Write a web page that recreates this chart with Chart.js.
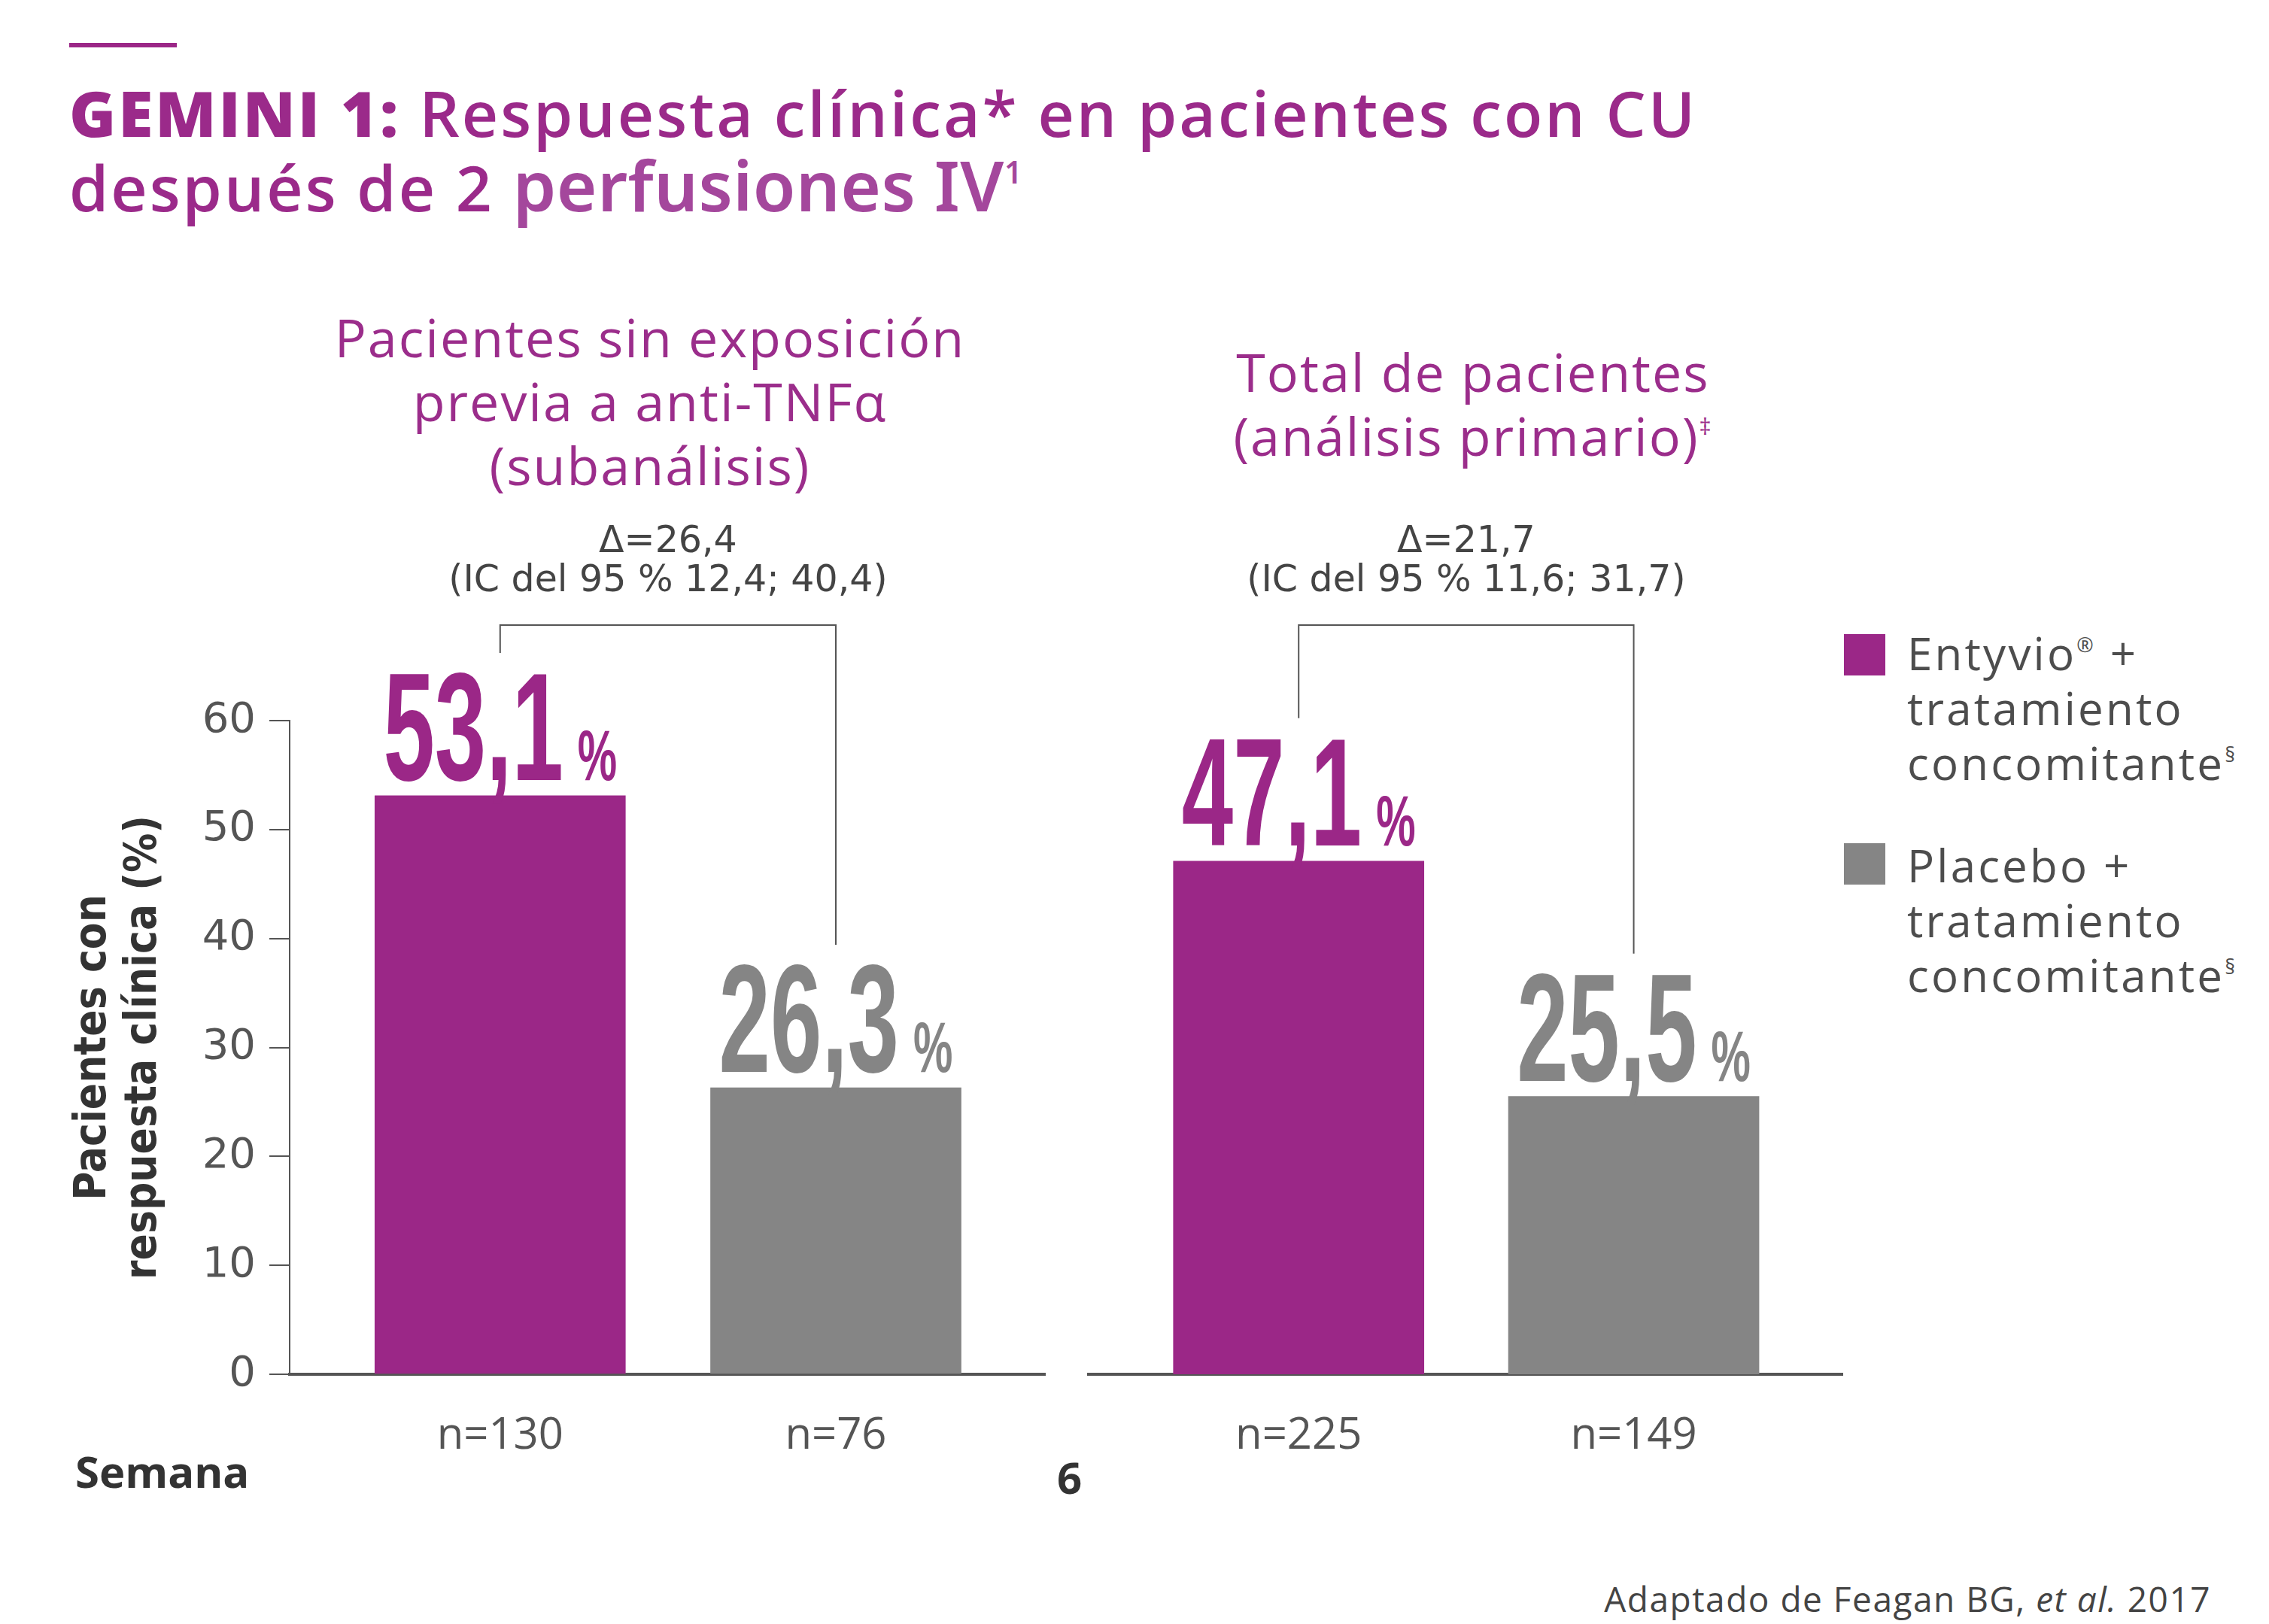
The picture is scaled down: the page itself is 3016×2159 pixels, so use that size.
<!DOCTYPE html>
<html>
<head>
<meta charset="utf-8">
<script src="https://cdn.jsdelivr.net/npm/chart.js@4.4.0/dist/chart.umd.min.js"></script>
<style>
  html, body { margin: 0; padding: 0; background: #fff; }
  body { width: 3016px; height: 2159px; position: relative; overflow: hidden; font-family: 'Open Sans', sans-serif; }
  canvas { position: absolute; left: 0; top: 0; }
  .t { position: absolute; white-space: nowrap; }
  .titulo { left: 92px; font-size: 84px; letter-spacing: 3px; line-height: 100px; color: #9b2a8a; font-weight: 600; }
  .titulo b { font-weight: 800; }
  .perf { font-family: 'Noto Sans', sans-serif; font-size: 92px; letter-spacing: 0.5px; color: #a4479c; font-weight: 600; }
  .sub { text-align: center; font-size: 70px; letter-spacing: 2px; line-height: 85px; color: #9b2d8b; }
  .ley { left: 2535px; font-size: 60px; letter-spacing: 3.2px; line-height: 73px; color: #4d4d4d; }
  .cuadro { position: absolute; left: 2451px; width: 55px; height: 55px; }
  sup { font-size: 0.45em; line-height: 0; vertical-align: 0.9em; }
</style>
</head>
<body>
<div style="position:absolute;left:92px;top:57px;width:143px;height:6px;background:#9b2787"></div>
<div class="t titulo" style="top:100px"><b>GEMINI 1:</b> Respuesta clínica* en pacientes con CU</div>
<div class="t titulo" style="top:196px">después de 2 <span class="perf">perfusiones IV<sup>1</sup></span></div>

<div class="t sub" style="left:364px;width:1000px;top:406px">Pacientes sin exposición<br>previa a anti-TNFα<br>(subanálisis)</div>
<div class="t sub" style="left:1458px;width:1000px;top:452px">Total de pacientes<br>(análisis primario)<sup>‡</sup></div>

<div class="cuadro" style="top:843px;background:#9b2787"></div>
<div class="t ley" style="top:832px">Entyvio<sup>®</sup> +<br>tratamiento<br>concomitante<sup>§</sup></div>
<div class="cuadro" style="top:1121px;background:#858585"></div>
<div class="t ley" style="top:1114px">Placebo +<br>tratamiento<br>concomitante<sup>§</sup></div>

<div class="t" style="left:100px;top:1918px;font-size:58px;font-weight:700;color:#333;line-height:76px">Semana</div>
<div class="t" style="left:1405px;top:1926px;font-size:58px;font-weight:700;color:#333;line-height:76px">6</div>
<div class="t" style="right:77px;top:2098px;font-size:46px;letter-spacing:1.5px;color:#444;line-height:54px">Adaptado de Feagan BG, <i>et al.</i> 2017</div>

<canvas id="graf1" width="3016" height="2159"></canvas>
<canvas id="graf2" width="3016" height="2159"></canvas>

<script>
// ==================== DATOS ====================
const series = ['Entyvio® + tratamiento concomitante', 'Placebo + tratamiento concomitante'];
const grupos = ['Pacientes sin exposición previa a anti-TNFα (subanálisis)', 'Total de pacientes (análisis primario)'];
const entyvio = [53.1, 47.1];
const placebo = [26.3, 25.5];
const nEntyvio = [130, 225];
const nPlacebo = [76, 149];
const deltas = ['Δ=26,4', 'Δ=21,7'];
const intervalos = ['(IC del 95 % 12,4; 40,4)', '(IC del 95 % 11,6; 31,7)'];
const ticksY = [0, 10, 20, 30, 40, 50, 60];

// ==================== ESTILOS ====================
const purpura = '#9b2787';
const gris = '#858585';
const colorEje = '#555555';

// etiqueta grande tipo "53,1 %" (fuente estrechada a mano)
function dibujarValor(ctx, x, yBase, valor, color) {
  const texto = valor.toFixed(1).replace('.', ',');
  const sxNum = 0.6, sxPct = 0.62;
  ctx.save();
  ctx.fillStyle = color;
  ctx.textBaseline = 'alphabetic';
  ctx.font = "bold 205px 'Liberation Sans'";
  const anchoNum = ctx.measureText(texto).width * sxNum;
  ctx.font = "bold 95px 'Liberation Sans'";
  const anchoPct = ctx.measureText('%').width * sxPct;
  const total = anchoNum + 19 + anchoPct;
  const x0 = x - total / 2;

  ctx.save();
  ctx.translate(x0, yBase);
  ctx.scale(sxNum, 1);
  ctx.font = "bold 205px 'Liberation Sans'";
  ctx.fillText(texto, 0, 0);
  ctx.restore();

  ctx.translate(x0 + anchoNum + 19, yBase);
  ctx.scale(sxPct, 1);
  ctx.font = "bold 95px 'Liberation Sans'";
  ctx.fillText('%', 0, 0);
  ctx.restore();
}

const pluginAnotaciones = {
  id: 'anotaciones',
  afterDatasetsDraw(chart) {
    const ctx = chart.ctx;
    const i = chart.options.indiceGrupo;
    const barA = chart.getDatasetMeta(0).data[0];
    const barB = chart.getDatasetMeta(1).data[0];
    const topA = barA.y - 21;
    const topB = barB.y - 21;
    dibujarValor(ctx, barA.x, topA, entyvio[i], purpura);
    dibujarValor(ctx, barB.x, topB, placebo[i], gris);

    // corchete de comparación
    const yC = chart.chartArea.top - 127;
    ctx.save();
    ctx.strokeStyle = colorEje;
    ctx.lineWidth = 2;
    ctx.beginPath();
    ctx.moveTo(barA.x, topA - 147 - 22);
    ctx.lineTo(barA.x, yC);
    ctx.lineTo(barB.x, yC);
    ctx.lineTo(barB.x, topB - 147 - 22);
    ctx.stroke();

    const xm = (barA.x + barB.x) / 2;
    ctx.fillStyle = '#444';
    ctx.textAlign = 'center';
    ctx.textBaseline = 'middle';
    ctx.font = "49px 'DejaVu Sans'";
    ctx.fillText(deltas[i], xm, yC - 110);
    ctx.fillText(intervalos[i], xm, yC - 58);
    ctx.restore();
  }
};

function crearGrafico(id, i, conEjeY, izq, der) {
  return new Chart(document.getElementById(id), {
    type: 'bar',
    data: {
      datasets: [
        { label: series[0], data: [{ x: 0, y: entyvio[i] }], backgroundColor: purpura, grouped: false, barThickness: 333 },
        { label: series[1], data: [{ x: 1, y: placebo[i] }], backgroundColor: gris, grouped: false, barThickness: 333 }
      ]
    },
    options: {
      indiceGrupo: i,
      responsive: false,
      animation: false,
      layout: { padding: { left: izq, right: der, top: 958, bottom: 202 } },
      plugins: { legend: { display: false }, tooltip: { enabled: false } },
      scales: {
        x: {
          type: 'linear',
          min: -0.627,
          max: 1.623,
          offset: false,
          afterBuildTicks: s => { s.ticks = [{ value: 0 }, { value: 1 }]; },
          afterFit: s => { s.height = 130; },
          grid: { display: false },
          border: { display: true, color: colorEje, width: 4 },
          ticks: {
            padding: 40,
            color: colorEje,
            font: { family: 'Open Sans', size: 58 },
            callback: (v, idx) => idx === 0 ? 'n=' + nEntyvio[i] : 'n=' + nPlacebo[i]
          }
        },
        y: {
          display: conEjeY,
          min: 0,
          max: 60,
          afterBuildTicks: s => { s.ticks = ticksY.map(v => ({ value: v })); },
          afterFit: s => { s.width = 385 - izq; },
          grid: { drawOnChartArea: false, drawTicks: true, tickLength: 27, color: colorEje, lineWidth: 2 },
          border: { display: true, color: colorEje, width: 2 },
          ticks: { padding: 18, color: colorEje, font: { family: 'DejaVu Sans', size: 56 } },
          title: {
            display: true,
            text: ['Pacientes con', 'respuesta clínica (%)'],
            color: '#333',
            font: { family: "'DejaVu Sans Condensed', Roboto, sans-serif", size: 58, weight: 'bold', lineHeight: 1.15 },
            padding: { top: 52, bottom: 0 }
          }
        }
      }
    },
    plugins: [pluginAnotaciones]
  });
}

const grafico1 = crearGrafico('graf1', 0, true, 40, 3016 - 1389);
const grafico2 = crearGrafico('graf2', 1, false, 1447, 3016 - 2449);
</script>
</body>
</html>
